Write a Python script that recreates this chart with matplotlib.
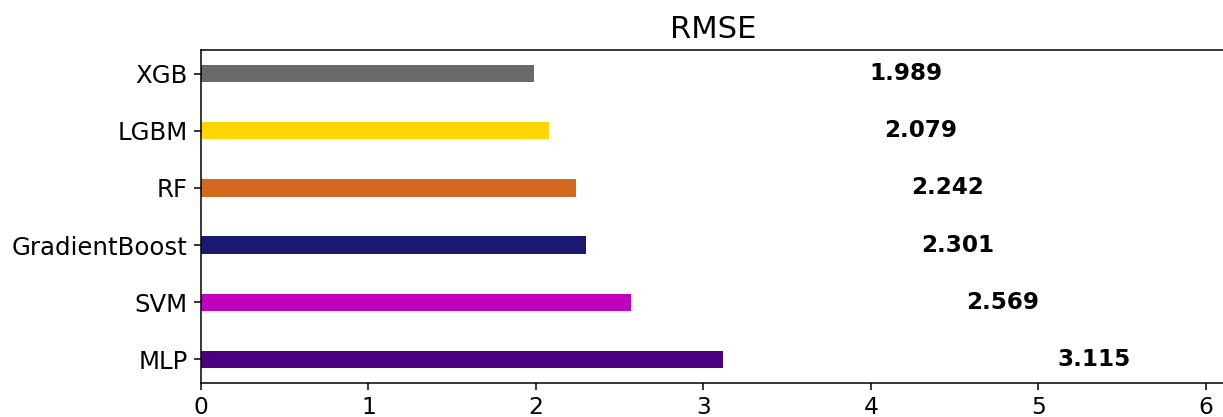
import matplotlib
matplotlib.use("Agg")
import matplotlib.pyplot as plt

models = ["MLP", "SVM", "GradientBoost", "RF", "LGBM", "XGB"]
rmse = [3.115, 2.569, 2.301, 2.242, 2.079, 1.989]
colors = ["indigo", "m", "midnightblue", "chocolate", "gold", "dimgray"]

dpi = 138
fig = plt.figure(figsize=(1223 / dpi, 417 / dpi), dpi=dpi)
ax = fig.add_axes([201 / 1223, 1 - 383 / 417, 1024 / 1223, (383 - 50) / 417])

ax.barh(models, rmse, height=0.3, color=colors)
for i, v in enumerate(rmse):
    ax.text(v + 2, i, f"{v:.3f}", fontsize=12, fontweight="bold", va="center")

ax.set_xlim(0, max(rmse) + 3)
ax.set_title("RMSE", fontsize=16)
ax.tick_params(axis="y", labelsize=12.7)
ax.tick_params(axis="x", labelsize=12.2)

fig.savefig("out.png", dpi=dpi)
